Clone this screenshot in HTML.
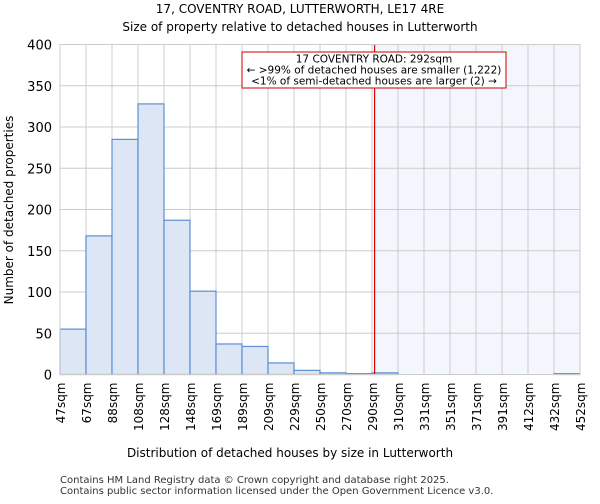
<!DOCTYPE html>
<html><head><meta charset="utf-8"><style>
body{margin:0;background:#fff;font-family:"DejaVu Sans","Liberation Sans",sans-serif}
</style></head><body>
<svg width="600" height="500" xmlns="http://www.w3.org/2000/svg" font-family="DejaVu Sans, Liberation Sans, sans-serif">
<text x="300" y="13" text-anchor="middle" font-size="12">17, COVENTRY ROAD, LUTTERWORTH, LE17 4RE</text>
<text x="300" y="31" text-anchor="middle" font-size="12">Size of property relative to detached houses in Lutterworth</text>
<g id="grid"></g><g id="bars"></g><g id="axes"></g>
<text x="290" y="457" text-anchor="middle" font-size="12">Distribution of detached houses by size in Lutterworth</text>
<text transform="translate(13,210) rotate(-90)" text-anchor="middle" font-size="12">Number of detached properties</text>
<text x="60" y="483" font-size="10" fill="#333">Contains HM Land Registry data © Crown copyright and database right 2025.</text>
<text x="60" y="494" font-size="10" fill="#333">Contains public sector information licensed under the Open Government Licence v3.0.</text>
</svg>
<script>
const labels=["47sqm","67sqm","88sqm","108sqm","128sqm","148sqm","169sqm","189sqm","209sqm","229sqm","250sqm","270sqm","290sqm","310sqm","331sqm","351sqm","371sqm","391sqm","412sqm","432sqm","452sqm"];
const counts=[55,168,285,328,187,101,37,34,14,5,2,1,2,0,0,0,0,0,0,1];
const yTicks=[0,50,100,150,200,250,300,350,400];
const propertySize=292;
const binStart=47, binWidth=20.25;
const X0=60,X1=580,Y0=374.5,Y1=44.5,NS="http://www.w3.org/2000/svg";
const bw=(X1-X0)/counts.length;
const xb=i=>X0+i*bw;
const xv=v=>X0+(v-binStart)/binWidth*bw;
const y=v=>Y0-(v/400)*(Y0-Y1);
function mk(t,a,p){const e=document.createElementNS(NS,t);for(const k in a)e.setAttribute(k,a[k]);p.appendChild(e);return e;}
const svg=document.querySelector('svg'),grid=document.getElementById('grid'),bars=document.getElementById('bars'),axes=document.getElementById('axes');
mk('rect',{x:X0,y:Y1,width:X1-X0,height:Y0-Y1,fill:'#fff'},grid);
const lx=xv(propertySize);
const sh=mk('rect',{x:lx,y:Y1,width:X1-lx,height:Y0-Y1,fill:'#f3f6fd'},grid);


yTicks.forEach(t=>{
const l=mk('line',{x1:X0,x2:X1,y1:y(t),y2:y(t),stroke:'#ccc'},grid);


const tx=mk('text',{x:X0-8,y:y(t)+5,'text-anchor':'end','font-size':'13'},axes);
tx.textContent=t;


});
labels.forEach((lb,i)=>{
const l=mk('line',{x1:xb(i),x2:xb(i),y1:Y1,y2:Y0,stroke:'#ccc'},grid);


const tx=mk('text',{transform:`translate(${xb(i)+5},${Y0+8}) rotate(-90)`,'text-anchor':'end','font-size':'12'},axes);
tx.textContent=lb;


});
counts.forEach((c,i)=>{
if(c<=0)return;
const r=mk('rect',{x:xb(i),y:y(c),width:bw,height:Y0-y(c),fill:'#dce6f4',stroke:'#5b8fd6','stroke-width':1.2},bars);


});
const ln=mk('line',{x1:lx,x2:lx,y1:Y1,y2:Y0,stroke:'#d00','stroke-width':1.2},bars);


const bx=mk('rect',{x:242,y:52,width:264,height:36,fill:'#fff',stroke:'#c00'},bars);


["17 COVENTRY ROAD: 292sqm","← >99% of detached houses are smaller (1,222)","<1% of semi-detached houses are larger (2) →"].forEach((s,i)=>{
const t=mk('text',{x:374,y:62.5+i*11,'text-anchor':'middle','font-size':'10.5'},bars);
t.textContent=s;


});
mk('rect',{x:X0,y:Y1,width:X1-X0,height:Y0-Y1,fill:'none',stroke:'#ccc'},axes);
</script>
</body></html>
